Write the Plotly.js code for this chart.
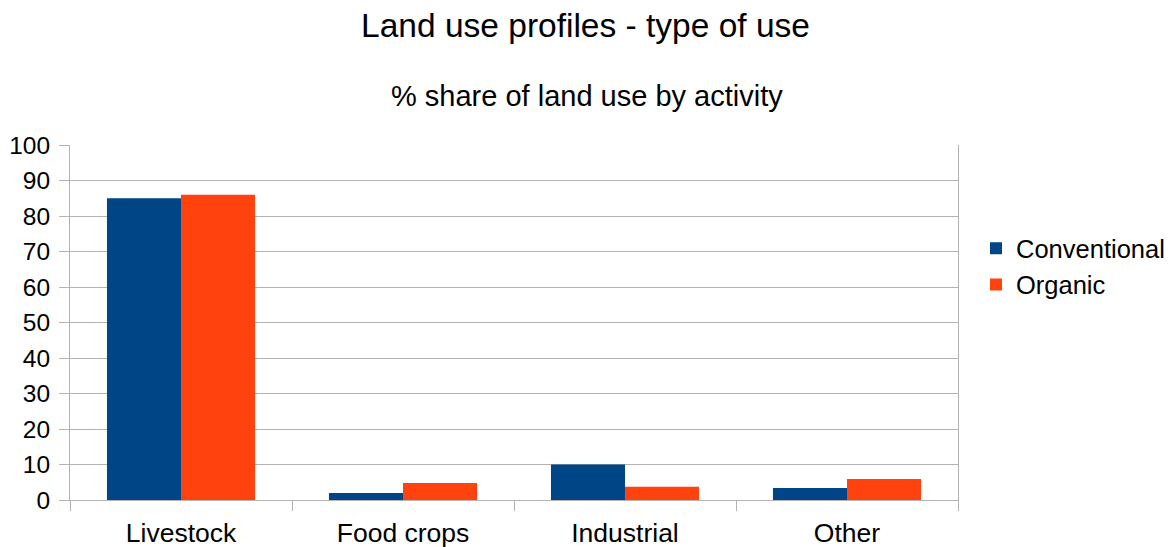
<!DOCTYPE html>
<html>
<head>
<meta charset="utf-8">
<script src="https://cdn.plot.ly/plotly-3.0.1.min.js"></script>
<style>html,body{margin:0;padding:0;background:#fff;}#chart{width:1171px;height:547px;}</style>
</head>
<body>
<div id="chart"></div>
<script>
const categories = ["Livestock", "Food crops", "Industrial", "Other"];
const conventional = [85, 2, 10, 3.4];
const organic = [86, 4.8, 3.7, 5.9];
const seriesNames = ["Conventional", "Organic"];
const yTicks = [0, 10, 20, 30, 40, 50, 60, 70, 80, 90, 100];

const font = "Liberation Sans, Arial, sans-serif";
const traces = [
  {type: "bar", name: seriesNames[0], x: categories, y: conventional, marker: {color: "#004586"}},
  {type: "bar", name: seriesNames[1], x: categories, y: organic, marker: {color: "#ff420e"}}
];
const layout = {
  width: 1171, height: 547,
  margin: {l: 70, r: 213, t: 145, b: 47, autoexpand: false},
  paper_bgcolor: "#fff", plot_bgcolor: "#fff",
  font: {family: font, color: "#000", size: 24},
  title: {text: "Land use profiles - type of use", font: {family: font, size: 33.5, color: "#000"},
          x: 0.5, xref: "container", xanchor: "center", y: 1 - 25/547, yref: "container", yanchor: "middle"},
  annotations: [{text: "% share of land use by activity", xref: "paper", yref: "paper", x: (587-70)/888, y: (500-96)/355,
                 xanchor: "center", yanchor: "middle", showarrow: false, font: {family: font, size: 29, color: "#000"}}],
  barmode: "group", bargap: 0.333, bargroupgap: 0,
  xaxis: {type: "category", showgrid: false, showline: true, linecolor: "#b3b3b3", linewidth: 1,
          ticks: "outside", tickson: "boundaries", ticklen: 10, tickcolor: "#b3b3b3",
          ticklabelstandoff: 9, automargin: false,
          tickfont: {family: font, size: 26.5, color: "#000"}, mirror: false},
  yaxis: {range: [0, 100], tickvals: yTicks, showgrid: true, gridcolor: "#b3b3b3", gridwidth: 1,
          showline: true, linecolor: "#b3b3b3", ticks: "outside", ticklen: 10, tickcolor: "#b3b3b3",
          ticklabelstandoff: 4, automargin: false,
          tickfont: {family: font, size: 24.5, color: "#000"}, zeroline: false, mirror: true, fixedrange: true},
  legend: {x: (976-70)/888, xanchor: "left", y: 0.774, yanchor: "top", font: {family: font, size: 25.5, color: "#000"},
           tracegroupgap: 0, itemwidth: 30, bgcolor: "rgba(0,0,0,0)"},
  showlegend: true
};
Plotly.newPlot("chart", traces, layout, {displayModeBar: false, staticPlot: true});
</script>
</body>
</html>
